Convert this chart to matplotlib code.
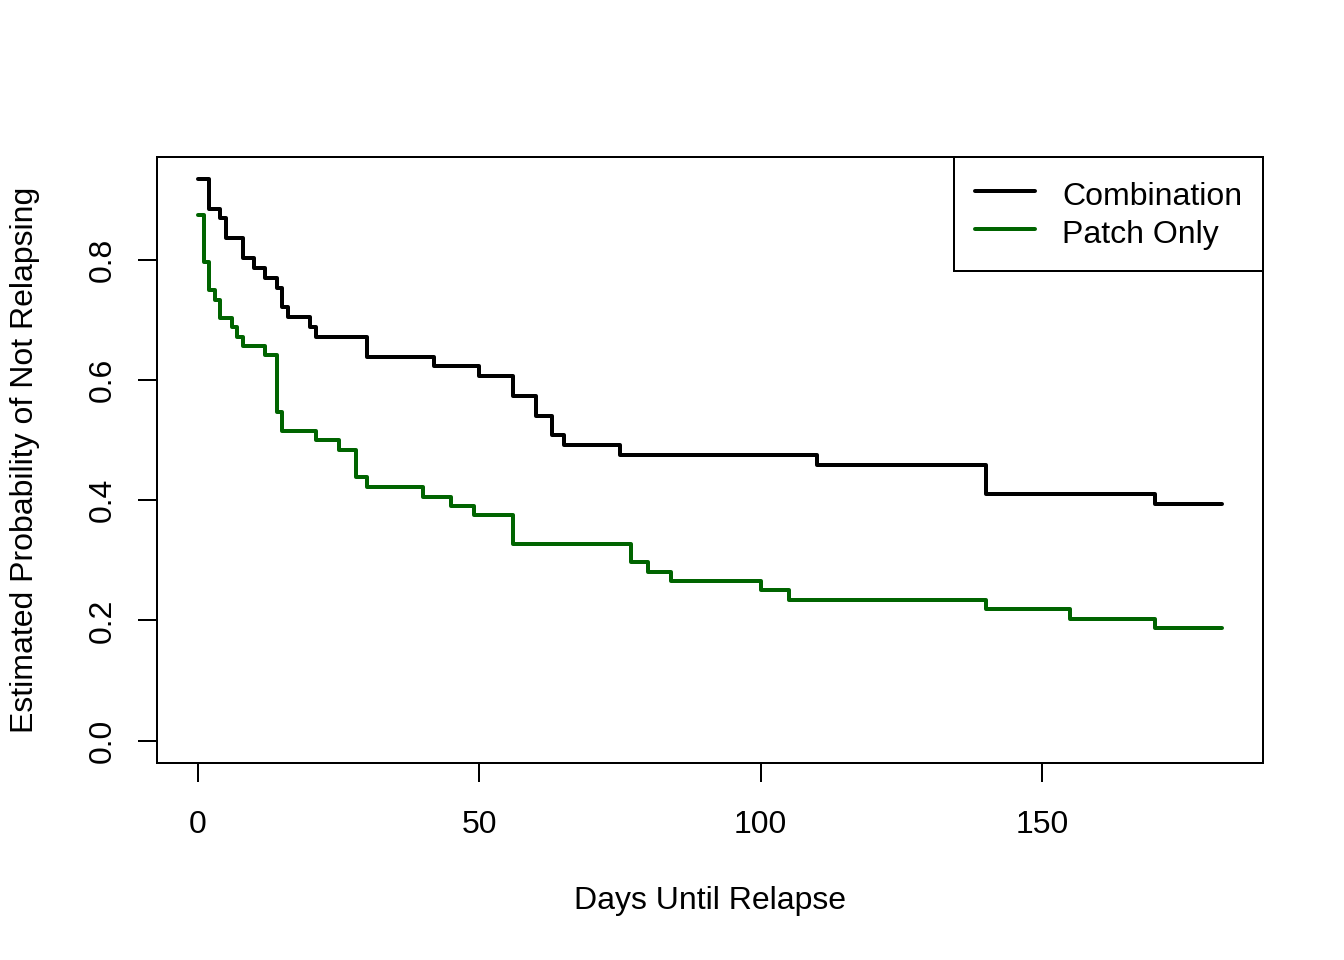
import matplotlib
matplotlib.use("Agg")
import matplotlib.pyplot as plt

plt.rcParams['font.family'] = ['Liberation Sans', 'DejaVu Sans']

# Kaplan-Meier step data (time, survival)
combo_times = [0, 2, 4, 5, 8, 10, 12, 14, 15, 16, 20, 21, 30, 42, 50, 56, 60, 63, 65, 75, 110, 140, 170, 182]
combo_surv = [0.934, 0.885, 0.869, 0.836, 0.803, 0.787, 0.770, 0.754, 0.721, 0.705, 0.689, 0.672,
              0.639, 0.623, 0.607, 0.574, 0.541, 0.508, 0.492, 0.475, 0.459, 0.410, 0.393, 0.393]

patch_times = [0, 1, 2, 3, 4, 6, 7, 8, 12, 14, 15, 21, 25, 28, 30, 40, 45, 49, 56, 77, 80, 84,
               100, 105, 140, 155, 170, 182]
patch_surv = [0.875, 0.797, 0.750, 0.734, 0.703, 0.688, 0.672, 0.656, 0.641, 0.547, 0.516, 0.500,
              0.484, 0.438, 0.422, 0.406, 0.391, 0.375, 0.328, 0.297, 0.281, 0.266, 0.250, 0.234,
              0.219, 0.203, 0.188, 0.188]

series_labels = ["Combination", "Patch Only"]
series_colors = ["black", "#006400"]

x_ticks = [0, 50, 100, 150]
y_ticks = [0.0, 0.2, 0.4, 0.6, 0.8]
y_tick_labels = ["0.0", "0.2", "0.4", "0.6", "0.8"]

fig = plt.figure(figsize=(7, 5), dpi=192)
ax = fig.add_axes([157 / 1344, 1 - 763 / 960, (1263 - 157) / 1344, (763 - 157) / 960])

for t, s, lab, col in zip([combo_times, patch_times], [combo_surv, patch_surv], series_labels, series_colors):
    ax.step(t, s, where='post', color=col, lw=1.5, label=lab,
            solid_capstyle='round', solid_joinstyle='round')

xmin, xmax = 0, max(combo_times + patch_times)
ymin, ymax = 0, max(combo_surv + patch_surv)
xp = 0.04 * (xmax - xmin)
yp = 0.04 * (ymax - ymin)
ax.set_xlim(xmin - xp, xmax + xp)
ax.set_ylim(ymin - yp, ymax + yp)

ax.set_xticks(x_ticks)
ax.set_xticklabels([str(v) for v in x_ticks])
ax.set_yticks(y_ticks)
ax.set_yticklabels(y_tick_labels, rotation=90, va='center')

for sp in ax.spines.values():
    sp.set_linewidth(0.75)
    sp.set_color('black')

ax.tick_params(axis='both', direction='out', length=7.2, width=0.75, labelsize=12, colors='black')
ax.tick_params(axis='x', pad=10.5)
ax.tick_params(axis='y', pad=7.5)

ax.set_xlabel("Days Until Relapse", fontsize=12, va='center')
ax.set_ylabel("Estimated Probability of Not Relapsing", fontsize=12)
ax.xaxis.set_label_coords(0.5, (763 - 901) / 606)
ax.yaxis.label.set_va('center')
ax.yaxis.set_label_coords((25 - 157) / 1106, 0.5)

leg = ax.legend(loc='upper right', borderaxespad=0, fancybox=False, edgecolor='black',
                fontsize=12, handlelength=1.875, handletextpad=0.84, borderpad=0.65,
                labelspacing=0.125, handleheight=1.19, framealpha=1)
leg.get_frame().set_linewidth(0.75)

fig.savefig("out.png", dpi=192)
